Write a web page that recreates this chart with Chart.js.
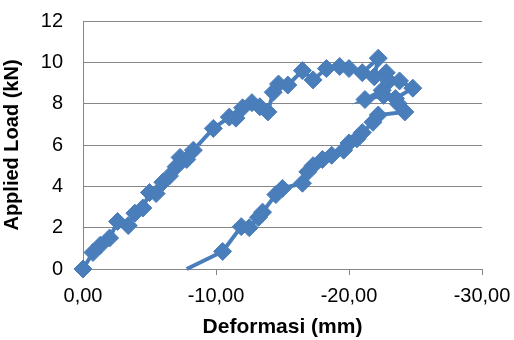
<!DOCTYPE html>
<html>
<head>
<meta charset="utf-8">
<script src="https://cdn.jsdelivr.net/npm/chart.js@4"></script>
<style>
  html, body { margin: 0; padding: 0; background: #fff; }
  #wrap { width: 514px; height: 340px; }
</style>
</head>
<body>
<div id="wrap"><canvas id="graph1" width="514" height="340"></canvas></div>
<script>
// deformation (mm) and applied load (kN), in drawing order
var deformasi = [0, -0.75, -1.3, -2.0, -2.6, -3.4, -3.9, -4.5, -5.0, -5.5, -6.0, -6.5, -7.0, -7.3, -7.8, -8.3,
    -9.8, -11.0, -11.5, -12.0, -12.7, -13.3, -13.9, -14.3, -14.7, -15.4, -16.5, -17.3, -18.3, -19.3, -20.0, -21.0,
    -22.2, -21.9, -22.8, -23.0, -23.8, -24.8, -23.5, -22.5, -21.2, -22.6, -23.7, -24.2,
    -22.2, -21.8, -21.0, -20.6, -20.0, -19.6, -18.7, -18.0, -17.3, -16.9, -16.5, -15.0, -14.5, -13.5, -13.2,
    -12.5, -11.9, -10.5, -7.8];
var load = [0, 0.8, 1.15, 1.5, 2.3, 2.1, 2.7, 2.95, 3.7, 3.65, 4.2, 4.5, 4.95, 5.4, 5.3, 5.75,
    6.8, 7.35, 7.3, 7.8, 8.05, 7.85, 7.6, 8.55, 8.95, 8.9, 9.6, 9.15, 9.7, 9.8, 9.7, 9.5,
    10.2, 9.3, 9.5, 9.1, 9.1, 8.75, 8.25, 8.65, 8.2, 8.4, 8.0, 7.6,
    7.45, 7.1, 6.6, 6.3, 6.1, 5.75, 5.5, 5.3, 5.0, 4.7, 4.15, 3.9, 3.6, 2.75, 2.5,
    2.0, 2.05, 0.85, 0];
var xTicks = [0, -10, -20, -30];
var yTicks = [0, 2, 4, 6, 8, 10, 12];

var points = deformasi.map(function(d, i) { return { x: d, y: load[i] }; });
var lastIndex = points.length - 1;

var blue = '#4a7ebb';
var grey = '#868686';
var font = "'Liberation Sans', Arial, sans-serif";

var ctx1 = document.getElementById('graph1').getContext('2d');
var graph1 = new Chart(ctx1, {
    type: 'scatter',
    data: {
        datasets: [{
            data: points,
            showLine: true,
            clip: 12,
            borderColor: blue,
            backgroundColor: blue,
            borderWidth: 4,
            pointStyle: 'rectRot',
            pointRadius: function(c) { return c.dataIndex === lastIndex ? 0 : 9; },
            pointBorderWidth: 1,
            pointHoverRadius: 9
        }]
    },
    options: {
        responsive: false,
        animation: false,
        layout: { padding: { top: 21, right: 32, left: 0, bottom: 0 } },
        plugins: { legend: { display: false }, tooltip: { enabled: false } },
        scales: {
            x: {
                type: 'linear',
                reverse: true,
                min: -30,
                max: 0,
                afterBuildTicks: function(s) { s.ticks = xTicks.map(function(v) { return { value: v }; }); },
                afterFit: function(s) { s.height = 71; s.paddingLeft = 0; s.paddingRight = 0; },
                border: { color: grey, width: 1 },
                grid: { drawOnChartArea: false, drawTicks: true, tickLength: 6, color: grey },
                ticks: {
                    color: '#000',
                    padding: 9,
                    maxRotation: 0,
                    font: { family: font, size: 20 },
                    callback: function(v) { return v.toFixed(2).replace('.', ','); }
                },
                title: {
                    display: true,
                    text: 'Deformasi (mm)',
                    color: '#000',
                    padding: { top: 2, bottom: 0 },
                    font: { family: font, size: 21, weight: 'bold' }
                }
            },
            y: {
                min: 0,
                max: 12,
                afterBuildTicks: function(s) { s.ticks = yTicks.map(function(v) { return { value: v }; }); },
                afterFit: function(s) { s.width = 83; s.paddingTop = 0; s.paddingBottom = 0; },
                border: { color: grey, width: 1 },
                grid: { drawTicks: false, color: grey, lineWidth: 1 },
                ticks: {
                    color: '#000',
                    padding: 20,
                    font: { family: font, size: 20 }
                },
                title: {
                    display: true,
                    text: 'Applied Load (kN)',
                    color: '#000',
                    padding: { top: 0, bottom: 2 },
                    font: { family: font, size: 20, weight: 'bold' }
                }
            }
        }
    }
});
</script>
</body>
</html>
